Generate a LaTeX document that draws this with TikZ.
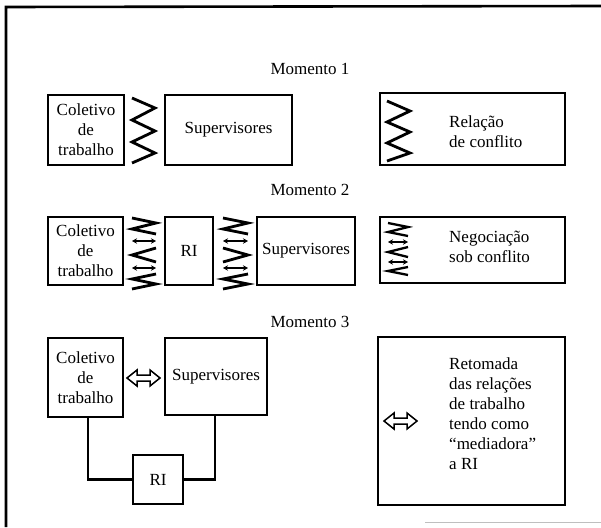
\documentclass[tikz,border=0pt]{standalone}
\usepackage{fontspec}
\setmainfont{Liberation Serif}
\usetikzlibrary{arrows.meta}
\newcommand\fsz{\fontsize{17}{20}\selectfont}
\begin{document}
\begin{tikzpicture}[x=1pt,y=-1pt,
  box/.style={draw, line width=2.6pt, inner sep=0pt, outer sep=0pt, align=center, font=\fsz},
  legtext/.style={anchor=west, align=left, inner sep=0pt, font=\fsz},
  title/.style={inner sep=0pt, font=\fsz},
  zig/.style={line width=2.8pt, line join=miter, line cap=butt},
  dbl/.style={line width=1.5pt, {Stealth[length=5pt,width=5.5pt]}-{Stealth[length=5pt,width=5.5pt]}},
  hollow/.style={line width=1.5pt, line join=miter},
  wire/.style={line width=2.6pt}]
\useasboundingbox (0,0) rectangle (601,527);
% frame
\draw[line width=2.6pt] (6,527) -- (6,7) -- (601,6);
\draw[line width=0.6pt, black!25] (425,522) -- (601,522);

% ---------- Momento 1 ----------
\node[title] (t1) at (310,69) {Momento 1};
\node[box, minimum width=76pt, minimum height=70pt] (c1) at (86,130) {Coletivo\\de\\trabalho};
\node[box, minimum width=127pt, minimum height=70pt] (s1) at (228.5,130) {Supervisores};
\draw[zig] (132,98) -- (155,108) -- (132,120) -- (155,131) -- (132,142) -- (155,153) -- (132,163);
\node[box, minimum width=185pt, minimum height=72pt] (l1) at (472.5,129) {};
\draw[zig] (387,101) -- (410,111) -- (387,122) -- (410,132) -- (387,143) -- (410,153) -- (387,161);
\node[legtext] (l1t) at (449,132) {Relação\\de conflito};

% ---------- Momento 2 ----------
\node[title] (t2) at (310,190) {Momento 2};
\node[box, minimum width=75pt, minimum height=68pt] (c2) at (85.5,251) {Coletivo\\de\\trabalho};
\node[box, minimum width=48pt, minimum height=68pt] (r2) at (189,251) {RI};
\node[box, minimum width=98pt, minimum height=68pt] (s2) at (306,251) {Supervisores};
% connector column 1
\draw[zig] (132,218) -- (156,223) -- (132,229) -- (156,234);
\draw[dbl] (132,241) -- (156,241);
\draw[zig] (156,248) -- (132,255) -- (156,262);
\draw[dbl] (132,268) -- (156,268);
\draw[zig] (156,274) -- (132,279) -- (156,284) -- (132,289);
% connector column 2
\draw[zig] (223,218) -- (248,223) -- (223,229) -- (248,234);
\draw[dbl] (223,241) -- (248,241);
\draw[zig] (223,248) -- (248,255) -- (223,262);
\draw[dbl] (223,268) -- (248,268);
\draw[zig] (248,274) -- (223,279) -- (248,284) -- (223,289);
% legend 2
\node[box, minimum width=185pt, minimum height=66pt] (l2) at (472.5,250) {};
\draw[zig, line width=2.3pt] (388,223) -- (408,227) -- (388,232) -- (408,236);
\draw[dbl, line width=1.3pt] (388,242) -- (408,242);
\draw[zig, line width=2.3pt] (408,247) -- (388,252) -- (408,257);
\draw[dbl, line width=1.3pt] (388,262) -- (408,262);
\draw[zig, line width=2.3pt] (408,267) -- (388,271) -- (408,275);
\node[legtext] (l2t) at (449,247) {Negociação\\sob conflito};

% ---------- Momento 3 ----------
\node[title] (t3) at (310,322) {Momento 3};
\node[box, minimum width=75pt, minimum height=79pt] (c3) at (85.5,377.5) {Coletivo\\de\\trabalho};
\node[box, minimum width=102pt, minimum height=77pt] (s3) at (216,376.5) {Supervisores};
\node[box, minimum width=50pt, minimum height=49pt] (r3) at (158,479.5) {RI};
\draw[wire] (c3.south -| 88,0) |- (r3.west);
\draw[wire] (s3.south -| 215,0) |- (r3.east);
\draw[hollow] (127,378) -- (137,370) -- (137,375) -- (150,375) -- (150,370) -- (160,378)
  -- (150,386) -- (150,381) -- (137,381) -- (137,386) -- cycle;
\node[box, minimum width=187pt, minimum height=168pt] (l3) at (471.5,421) {};
\draw[hollow] (384,421) -- (394,413) -- (394,418) -- (407,418) -- (407,413) -- (417,421)
  -- (407,429) -- (407,424) -- (394,424) -- (394,429) -- cycle;
\node[legtext] (l3t) at (449,414) {Retomada\\das relações\\de trabalho\\tendo como\\“mediadora”\\a RI};
\end{tikzpicture}
\end{document}
